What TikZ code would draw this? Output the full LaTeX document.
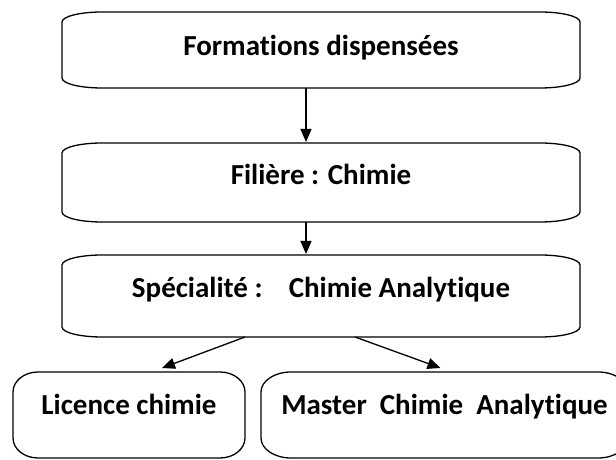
\documentclass[tikz,border=0pt]{standalone}
\usepackage{fontspec}
\setmainfont{Carlito}[Ligatures={NoCommon}]
\usetikzlibrary{arrows.meta}
\tikzset{
  boxnode/.style={draw=none, inner sep=0pt, outer sep=0pt, text height=19pt, font=\fontsize{29}{33}\selectfont\bfseries},
  outline/.style={line width=1.3pt, black},
  arr/.style={line width=1.3pt, -{Triangle[length=13pt,width=11pt]}}
}
\newcommand\boxoutline[3]{%
  \draw[outline] ([yshift=-#3]#1.north west)
    arc[start angle=180,end angle=90,x radius=#2,y radius=#3]
    -- ([xshift=-#2]#1.north east)
    arc[start angle=90,end angle=0,x radius=#2,y radius=#3]
    -- ([yshift=#3]#1.south east)
    arc[start angle=0,end angle=-90,x radius=#2,y radius=#3]
    -- ([xshift=#2]#1.south west)
    arc[start angle=270,end angle=180,x radius=#2,y radius=#3]
    -- cycle;}
\begin{document}
\begin{tikzpicture}[x=1pt,y=1pt]
\useasboundingbox (0,0) rectangle (616,460);
\clip (0,0) rectangle (616,460);
\fill[white] (0,0) rectangle (616,460);
\node[boxnode, minimum width=518pt, minimum height=76pt, text depth=8pt] (b1) at (321,410) {Formations dispensées};
\node[boxnode, minimum width=518pt, minimum height=79pt, text depth=15pt] (b2) at (321,277.5) {Filière : Chimie};
\node[boxnode, minimum width=518pt, minimum height=82pt, text depth=16pt] (b3) at (321,164) {Spécialité :\ \ \ \ Chimie Analytique};
\node[boxnode, minimum width=232pt, minimum height=86pt, text depth=20pt] (b4) at (129,45) {Licence chimie};
\node[boxnode, minimum width=367pt, minimum height=86pt, text depth=20pt] (b5) at (444.5,45) {Master\ \ Chimie\ \ Analytique};
\boxoutline{b1}{40pt}{10pt}
\boxoutline{b2}{40pt}{10pt}
\boxoutline{b3}{40pt}{10pt}
\boxoutline{b4}{25pt}{20pt}
\boxoutline{b5}{30pt}{20pt}
\draw[arr] ([xshift=-15pt]b1.south) -- ([xshift=-15pt,yshift=1pt]b2.north);
\draw[arr] ([xshift=-15pt]b2.south) -- ([xshift=-15pt,yshift=1pt]b3.north);
\draw[arr] ([xshift=-76pt]b3.south) -- ([xshift=33pt,yshift=4pt]b4.north);
\draw[arr] ([xshift=34pt]b3.south) -- ([xshift=-4pt,yshift=4pt]b5.north);
\end{tikzpicture}
\end{document}
